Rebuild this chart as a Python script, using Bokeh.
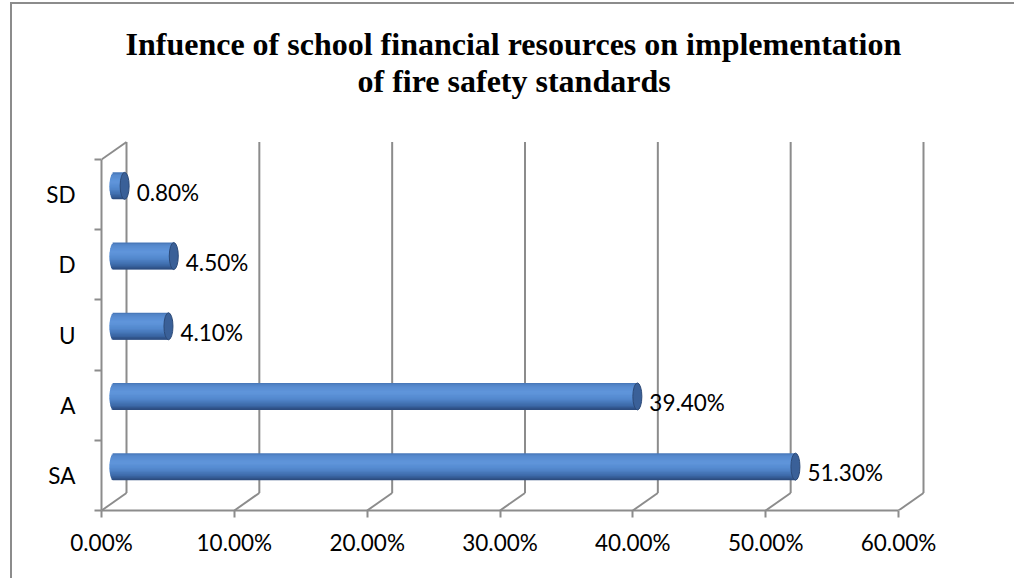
import numpy as np
from bokeh.plotting import figure
from bokeh.models import FixedTicker, NumeralTickFormatter, Range1d, Title
from bokeh.core.properties import value
from bokeh.embed import file_html
from bokeh.resources import INLINE

# ---- data ----
categories = ["SA", "A", "U", "D", "SD"]
percentages = [51.3, 39.4, 4.1, 4.5, 0.8]
x_ticks = [0.0, 0.1, 0.2, 0.3, 0.4, 0.5, 0.6]
title_lines = ["Infuence of school financial resources on implementation",
               "of fire safety standards"]

# ---- geometry (pixels -> data) ----
W, H = 1014, 578
FL, FR, FT, FB = 101, 940, 100, 510
px_per_x = (898 - 101) / 0.6
px_per_y = (510 - 159) / 5.0
x_end = (FR - FL) / px_per_x
y_end = -0.5 + (FB - FT) / px_per_y
DX = 25 / px_per_x
DY = 17.5 / px_per_y
BAR_H = 27 / px_per_y
CAP_W = 9 / px_per_x
GRID = "#8c8c8c"
FONT = "Lato"

p = figure(width=W, height=H, x_range=Range1d(0, x_end), y_range=Range1d(-0.5, y_end),
           output_backend="svg", toolbar_location=None, title=None,
           min_border_left=FL, min_border_right=W - FR,
           min_border_top=FT, min_border_bottom=H - FB)
p.outline_line_color = None
p.grid.visible = False
p.background_fill_color = "white"
p.border_fill_color = "white"

# title (two lines; first added sits closest to the plot)
for txt, so, off in ((title_lines[1], 4, 256), (title_lines[0], -6, 24)):
    p.add_layout(Title(text=txt, align="left", text_font="Liberation Serif",
                       text_font_style="bold", text_font_size="32px",
                       text_color="#000000", standoff=so, offset=off), "above")

# ---- 3D walls / gridlines ----
xt = np.array(x_ticks)
ncat = len(categories)
y_lo, y_hi = -0.5, ncat - 0.5
p.segment(x0=xt + DX, y0=y_lo + DY, x1=xt + DX, y1=y_hi + DY, line_color=GRID, line_width=2)
p.segment(x0=xt, y0=y_lo, x1=xt + DX, y1=y_lo + DY, line_color=GRID, line_width=2)
p.segment(x0=[0.0], y0=[y_hi], x1=[DX], y1=[y_hi + DY], line_color=GRID, line_width=2)

# ---- cylinders ----
ypos = np.arange(ncat, dtype=float)
vals = np.array(percentages) / 100.0
yc = ypos + DY / 2
xl = DX / 2
xr = vals + DX / 2

stops = [(0.0, (0x45, 0x74, 0xb4)), (0.1, (0x56, 0x89, 0xcd)), (0.35, (0x60, 0x96, 0xdc)),
         (0.6, (0x52, 0x87, 0xcc)), (0.85, (0x3b, 0x67, 0xa5)), (1.0, (0x2a, 0x48, 0x78))]

def grad(t):
    for (t0, c0), (t1, c1) in zip(stops[:-1], stops[1:]):
        if t0 <= t <= t1:
            f = (t - t0) / (t1 - t0)
            c = [int(round(a + (b - a) * f)) for a, b in zip(c0, c1)]
            return "#%02x%02x%02x" % tuple(c)
    return "#%02x%02x%02x" % stops[-1][1]

N = 20
s = BAR_H / N
for i in range(N):
    t = (i + 0.5) / N
    u = 1 - 2 * t
    half = (CAP_W / 2) * np.sqrt(max(0.0, 1 - u * u))
    top = yc + BAR_H / 2 - i * s
    bot = np.maximum(top - 1.8 * s, yc - BAR_H / 2)
    p.quad(top=top, bottom=bot, left=xl - half, right=xr,
           fill_color=grad(t), line_color=None)

p.ellipse(x=xr, y=yc, width=CAP_W, height=BAR_H, fill_color="#3a6098",
          line_color="#2c4a78", line_width=1)

# value labels
labels = ["%.2f%%" % v for v in percentages]
p.text(x=xr, y=ypos + 0.036, text=labels, x_offset=12, text_baseline="middle",
       text_align="left", text_font=value(FONT), text_font_size="22.5px", text_color="#000000")

# ---- axes ----
xa = p.xaxis[0]
xa.ticker = FixedTicker(ticks=x_ticks)
xa.formatter = NumeralTickFormatter(format="0.00%")
xa.bounds = (0, 0.6)
xa.axis_line_color = GRID
xa.axis_line_width = 2
xa.major_tick_line_color = GRID
xa.major_tick_line_width = 2
xa.major_tick_out = 7
xa.major_tick_in = 0
xa.minor_tick_line_color = None
xa.major_label_text_font = FONT
xa.major_label_text_font_size = "22.5px"
xa.major_label_text_color = "#000000"
xa.major_label_standoff = 11

ya = p.yaxis[0]
ya.ticker = FixedTicker(ticks=list(ypos), minor_ticks=list(np.arange(ncat + 1) - 0.5))
ya.major_label_overrides = {float(i): c for i, c in enumerate(categories)}
ya.major_label_overrides.update({int(i): c for i, c in enumerate(categories)})
ya.bounds = (y_lo, y_hi)
ya.axis_line_color = GRID
ya.axis_line_width = 2
ya.major_tick_out = 0
ya.major_tick_in = 0
ya.minor_tick_out = 7
ya.minor_tick_in = 0
ya.minor_tick_line_color = GRID
ya.minor_tick_line_width = 2
ya.major_label_text_font = FONT
ya.major_label_text_font_size = "22.5px"
ya.major_label_text_color = "#000000"
ya.major_label_standoff = 19

# outer chart border (left/top visible as in the reference)
p.stylesheets = [":host::after { content: ''; position: absolute; left: 10px; top: 2px; "
                 "width: 1100px; height: 700px; border: 2px solid #8c8c8c; "
                 "pointer-events: none; z-index: 10; }"]

open("out.html", "w").write(file_html(p, INLINE))
